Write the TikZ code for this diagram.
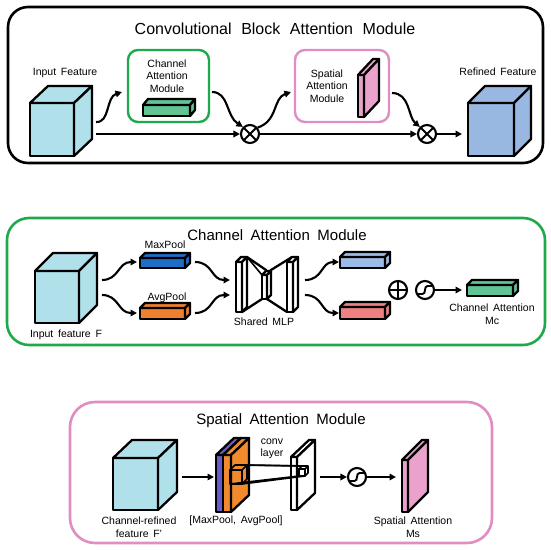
\documentclass[tikz,border=0pt]{standalone}
\usepackage{fontspec}
\setmainfont{Liberation Sans}
\usetikzlibrary{arrows.meta}
\definecolor{cubecyan}{RGB}{176,224,234}
\definecolor{refblue}{RGB}{152,184,226}
\definecolor{barGreen}{RGB}{96,196,148}
\definecolor{slabPink}{RGB}{234,162,204}
\definecolor{frameGreen}{RGB}{30,170,75}
\definecolor{framePink}{RGB}{224,142,194}
\definecolor{maxBlue}{RGB}{30,110,200}
\definecolor{avgOrange}{RGB}{238,128,48}
\definecolor{outBlue}{RGB}{156,188,232}
\definecolor{outRed}{RGB}{238,128,128}
\definecolor{slabPurple}{RGB}{104,92,200}
\definecolor{slabOrange}{RGB}{240,138,44}
\newcommand{\drawbox}[7]{%
  \filldraw[boxline,fill=#7] (#1,#2) rectangle ({#1+#3},{#2+#4});
  \filldraw[boxline,fill=#7] (#1,#2) -- ({#1+#5},{#2+#6}) -- ({#1+#3+#5},{#2+#6}) -- ({#1+#3},#2) -- cycle;
  \filldraw[boxline,fill=#7] ({#1+#3},#2) -- ({#1+#3+#5},{#2+#6}) -- ({#1+#3+#5},{#2+#4+#6}) -- ({#1+#3},{#2+#4}) -- cycle;
}
\newcommand{\ppc}[2]{([shift={(#1pt,#2pt)}]path picture bounding box.center)}
\newcommand{\titlefont}{\fontsize{16}{19}\selectfont\spaceskip 0.6em\relax}
\newcommand{\subtitlefont}{\fontsize{15}{18}\selectfont\spaceskip 0.5em\relax}
\newcommand{\labfont}{\fontsize{10.5}{12.5}\selectfont\spaceskip 0.45em\relax}
\tikzset{
  boxline/.style={line width=2.3pt,line join=round},
  panel/.style={line width=2.6pt,rounded corners=#1},
  title/.style={font=\titlefont,inner sep=0pt},
  subtitle/.style={font=\subtitlefont,inner sep=0pt},
  lab/.style={font=\labfont,align=center,inner sep=0pt},
  conn/.style={line width=2.1pt,-{Triangle[length=6.5pt,width=6.5pt]}},
  thinline/.style={line width=1.6pt},
  opbase/.style={circle,draw,line width=2.1pt,minimum size=18pt,inner sep=0pt},
  otimes/.style={opbase,path picture={\draw[line width=1.9pt] \ppc{-8}{-8} -- \ppc{8}{8} \ppc{-8}{8} -- \ppc{8}{-8};}},
  oplus/.style={opbase,path picture={\draw[line width=1.9pt] \ppc{-9}{0} -- \ppc{9}{0} \ppc{0}{-9} -- \ppc{0}{9};}},
  sigm/.style={opbase,path picture={\draw[line width=1.9pt] \ppc{-9}{-4} -- \ppc{-2.5}{-4} .. controls \ppc{1.5}{-4} and \ppc{-1.5}{4} .. \ppc{2.5}{4} -- \ppc{9}{4};}},
}
\begin{document}
\begin{tikzpicture}[x=1pt,y=-1pt]
\useasboundingbox (0,0) rectangle (550,550);
\fill[white] (0,0) rectangle (550,550);

%================ Panel 1: CBAM =================
\draw[panel=20] (8,7) rectangle (543,163);
\node[title] (t1) at (275,29) {Convolutional Block Attention Module};

\drawbox{30}{103}{44}{53}{18}{-17}{cubecyan}
\node[lab] (inF) at (65,73) {Input Feature};

\draw[panel=10,frameGreen,line width=2.4pt] (128,50) rectangle (209,122);
\node[lab] (cam) at (167,76) {Channel\\Attention\\Module};
\drawbox{143}{105}{47}{11}{5}{-6}{barGreen}

\draw[panel=10,framePink,line width=2.4pt] (295,50) rectangle (389,122);
\node[lab] (sam) at (327,86) {Spatial\\Attention\\Module};
\drawbox{358}{75}{6}{42}{15}{-16}{slabPink}

\drawbox{468}{103}{46}{53}{17}{-17}{refblue}
\node[lab] (refF) at (498,72) {Refined Feature};

\node[otimes] (m1) at (250,134) {};
\node[otimes] (m2) at (427,134) {};

\coordinate (c1s) at (96,122);
\coordinate (c1e) at (122,92);
\coordinate (c1b) at (96,134);
\coordinate (camOut) at (212,92);
\coordinate (samIn) at (291,92);
\coordinate (samOut) at (392,93);
\coordinate (refIn) at (462,134);

\draw[conn] (c1s) .. controls (110,123) and (106,97) .. (c1e);
\draw[conn] (c1b) -- (m1.west);
\draw[conn] (camOut) .. controls (229,92) and (226,116) .. (m1.135);
\draw[conn] (m1.40) .. controls (278,121) and (273,98) .. (samIn);
\draw[conn] (m1.east) -- (m2.west);
\draw[conn] (samOut) .. controls (410,93) and (408,117) .. (m2.135);
\draw[conn] (m2.east) -- (refIn);

%================ Panel 2: Channel attention =================
\draw[panel=22,frameGreen] (7,218) rectangle (545,345);
\node[subtitle] (t2) at (277,235) {Channel Attention Module};

\drawbox{35}{271}{44}{52}{18}{-18}{cubecyan}
\node[lab] (inF2) at (66,335) {Input feature F};

\drawbox{140}{258}{45}{10}{5}{-5}{maxBlue}
\node[lab] (mpl) at (165,245) {MaxPool};
\drawbox{140}{308}{45}{11}{5}{-5}{avgOrange}
\node[lab] (apl) at (167,298) {AvgPool};

\coordinate (cubeA) at (102,280);
\coordinate (cubeB) at (102,295);
\coordinate (mpIn) at (137,262);
\coordinate (apIn) at (137,313);
\coordinate (mpOut) at (195,262);
\coordinate (apOut) at (195,313);
\coordinate (mlpA) at (230,280);
\coordinate (mlpB) at (230,295);
\coordinate (mlpOA) at (305,280);
\coordinate (mlpOB) at (305,295);
\coordinate (obIn) at (339,262);
\coordinate (orIn) at (339,313);
\coordinate (mcIn) at (462,290);

\draw[conn] (cubeA) .. controls (119,280) and (118,262) .. (mpIn);
\draw[conn] (cubeB) .. controls (119,295) and (118,313) .. (apIn);
\draw[conn] (mpOut) .. controls (213,262) and (211,280) .. (mlpA);
\draw[conn] (apOut) .. controls (213,313) and (211,295) .. (mlpB);

% shared MLP
\filldraw[boxline,fill=white] (242,262) -- (247,257) -- (266,270) -- (266,295) -- (262,299) -- (242,312) -- cycle;
\draw[thinline] (247,257) -- (262,275);
\filldraw[boxline,fill=white] (267,275) -- (271,270) -- (292,257) -- (292,307) -- (287,312) -- (267,299) -- cycle;
\drawbox{236}{262}{6}{50}{5}{-5}{white}
\drawbox{262}{275}{5}{24}{4}{-4}{white}
\drawbox{287}{262}{6}{50}{5}{-5}{white}
\node[lab] (mlp) at (264,322) {Shared MLP};

\draw[conn] (mlpOA) .. controls (323,280) and (321,262) .. (obIn);
\draw[conn] (mlpOB) .. controls (323,295) and (321,313) .. (orIn);

\drawbox{340}{257}{45}{11}{5}{-5}{outBlue}
\drawbox{340}{307}{45}{12}{5}{-5}{outRed}

\node[oplus] (pl) at (398,290) {};
\node[sigm] (s1) at (425,290) {};
\draw[conn] (s1.east) -- (mcIn);
\drawbox{467}{285}{46}{11}{5}{-5}{barGreen}
\node[lab] (mc) at (492,314) {Channel Attention\\Mc};

%================ Panel 3: Spatial attention =================
\draw[panel=25,framePink] (70,402) rectangle (492,543);
\node[subtitle] (t3) at (281,421) {Spatial Attention Module};

\drawbox{113}{458}{45}{52}{19}{-18}{cubecyan}
\node[lab] (crf) at (139,527) {Channel-refined\\feature F\textquoteright};

\coordinate (cubeOut) at (182,477);
\coordinate (poolIn) at (214,477);
\draw[conn] (cubeOut) -- (poolIn);

% stacked pooling maps
\filldraw[boxline,fill=slabPurple] (216,455) rectangle (223,512);
\filldraw[boxline,fill=slabOrange] (223,455) rectangle (231,512);
\filldraw[boxline,fill=slabPurple] (216,455) -- (234,438) -- (241,438) -- (223,455) -- cycle;
\filldraw[boxline,fill=slabOrange] (223,455) -- (241,438) -- (249,438) -- (231,455) -- cycle;
\filldraw[boxline,fill=slabOrange] (231,455) -- (249,438) -- (249,495) -- (231,512) -- cycle;

% conv layer slab
\drawbox{291}{457}{6}{53}{18}{-17}{white}

% receptive field cubes and projection lines
\draw[thinline,line join=round] (230,470) rectangle (242,484);
\draw[thinline,line join=round] (230,470) -- (235,465) -- (247,465) -- (242,470) (247,465) -- (247,479) -- (242,484);
\draw[thinline] (235,465) -- (302,466);
\draw[thinline] (247,465) -- (308,466);
\draw[thinline] (230,484) -- (299,476);
\draw[thinline] (242,484) -- (305,476);
\draw[thinline,line join=round] (299,469) rectangle (305,476);
\draw[thinline,line join=round] (299,469) -- (302,466) -- (308,466) -- (305,469) (308,466) -- (308,473) -- (305,476);

\node[lab] (conv) at (272,449) {conv\\layer};
\node[lab] (pools) at (236,521) {[MaxPool,  AvgPool]};

\coordinate (convOut) at (320,477);
\coordinate (msIn) at (396,477);
\node[sigm] (s2) at (357,477) {};
\draw[conn] (convOut) -- (s2.west);
\draw[conn] (s2.east) -- (msIn);

\drawbox{402}{460}{6}{52}{20}{-20}{slabPink}
\node[lab] (ms) at (413,527) {Spatial Attention\\Ms};
\end{tikzpicture}
\end{document}
